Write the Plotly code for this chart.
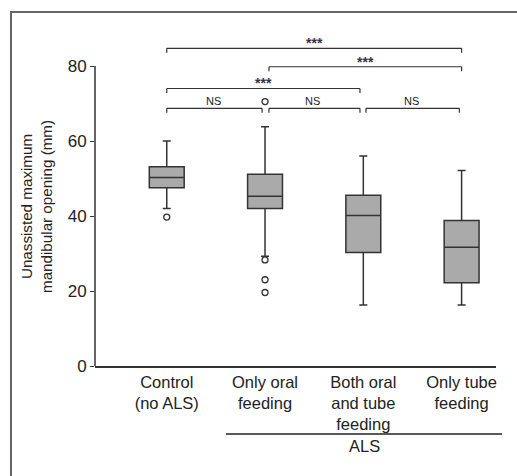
import plotly.graph_objects as go

categories = ["Control<br>(no ALS)", "Only oral<br>feeding", "Both oral<br>and tube<br>feeding", "Only tube<br>feeding"]
q1 = [47.5, 42.0, 30.3, 22.2]
median = [50.3, 45.3, 40.1, 31.7]
q3 = [53.1, 51.1, 45.5, 38.8]
lower_whisker = [42.0, 29.3, 16.3, 16.3]
upper_whisker = [60.0, 63.8, 56.0, 52.1]
outliers = [[39.7], [70.5, 28.3, 23.0, 19.6], [], []]

# significance brackets: (x_start, x_end, y, label, label_x, label_y)
brackets = [
    (0.0, 3.0, 84.7, "***", 1.5, 87.1),
    (1.04, 3.0, 79.8, "***", 2.02, 81.9),
    (0.0, 1.966, 74.0, "***", 0.98, 76.3),
    (0.0, 0.97, 68.7, "NS", 0.48, 70.8),
    (1.04, 1.966, 68.7, "NS", 1.48, 70.8),
    (2.027, 2.977, 68.7, "NS", 2.49, 70.8),
]

W, H = 517, 476
L, R, T, B = 95, 21, 29, 110
pw = W - L - R
ph = H - T - B
ymax = (366 - T) / 3.75

FONT = "Liberation Sans, Arial, sans-serif"
DARK = "#222222"
LINE = "#333333"

fig = go.Figure()
xs = list(range(len(categories)))
fig.add_trace(go.Box(
    x=xs, q1=q1, median=median, q3=q3,
    lowerfence=lower_whisker, upperfence=upper_whisker,
    fillcolor="#aaaaaa", line=dict(color=LINE, width=1.5),
    width=0.355, whiskerwidth=0.23, boxpoints=False, showlegend=False,
    hoverinfo="skip",
))

ox, oy = [], []
for i, vals in enumerate(outliers):
    for v in vals:
        ox.append(i)
        oy.append(v)
fig.add_trace(go.Scatter(
    x=ox, y=oy, mode="markers",
    marker=dict(symbol="circle-open", size=6, color=LINE, line=dict(width=1.3)),
    showlegend=False, hoverinfo="skip",
))

shapes = []
# y axis line from 0 to 80
shapes.append(dict(type="line", xref="paper", yref="y", x0=0, x1=0, y0=0, y1=80,
                   line=dict(color=LINE, width=1.5)))
annotations = []
tick = 1.2
for x0, x1, y, lab, lx, ly in brackets:
    shapes.append(dict(type="line", xref="x", yref="y", x0=x0, x1=x1, y0=y, y1=y,
                       line=dict(color=LINE, width=1.2)))
    shapes.append(dict(type="line", xref="x", yref="y", x0=x0, x1=x0, y0=y, y1=y - tick,
                       line=dict(color=LINE, width=1.2)))
    shapes.append(dict(type="line", xref="x", yref="y", x0=x1, x1=x1, y0=y, y1=y - tick,
                       line=dict(color=LINE, width=1.2)))
    if lab == "NS":
        annotations.append(dict(x=lx, y=ly, xref="x", yref="y", text=lab, showarrow=False,
                                font=dict(family=FONT, size=11, color=DARK),
                                xanchor="center", yanchor="middle"))
    else:
        annotations.append(dict(x=lx, y=ly - 0.9, xref="x", yref="y", text="<b>" + lab + "</b>",
                                showarrow=False,
                                font=dict(family=FONT, size=14, color="#333344"),
                                xanchor="center", yanchor="middle"))

# ALS group line and label
px2paper_x = lambda px: (px - L) / pw
px2paper_y = lambda py: (366 - py) / ph
shapes.append(dict(type="line", xref="paper", yref="paper",
                   x0=px2paper_x(226), x1=px2paper_x(502),
                   y0=px2paper_y(434), y1=px2paper_y(434),
                   line=dict(color=DARK, width=1.3)))
annotations.append(dict(x=px2paper_x(364), y=px2paper_y(446), xref="paper", yref="paper",
                        text="ALS", showarrow=False, xanchor="center", yanchor="middle",
                        font=dict(family=FONT, size=16.5, color=DARK)))
# y axis title
annotations.append(dict(x=px2paper_x(36), y=px2paper_y(207), xref="paper", yref="paper",
                        text="Unassisted maximum<br>mandibular opening (mm)", textangle=-90,
                        showarrow=False, xanchor="center", yanchor="middle",
                        font=dict(family=FONT, size=15.2, color=DARK)))
# outer frame
shapes.append(dict(type="rect", xref="paper", yref="paper",
                   x0=px2paper_x(11), x1=px2paper_x(560),
                   y0=px2paper_y(520), y1=px2paper_y(12),
                   line=dict(color="#666666", width=2)))

fig.update_layout(
    width=W, height=H,
    margin=dict(l=L, r=R, t=T, b=B),
    paper_bgcolor="white", plot_bgcolor="white",
    font=dict(family=FONT, color=DARK),
    shapes=shapes, annotations=annotations,
    xaxis=dict(range=[-0.73, 3.35], tickvals=xs, ticktext=categories,
               showline=True, linecolor=LINE, linewidth=1.5, ticks="",
               showgrid=False, zeroline=False, tickfont=dict(size=16.5, color=DARK),
               fixedrange=True),
    yaxis=dict(range=[0, ymax], tickvals=[0, 20, 40, 60, 80],
               showline=False, ticks="outside", ticklen=4, tickcolor=LINE, tickwidth=1.3,
               showgrid=False, zeroline=False, tickfont=dict(size=17, color=DARK),
               fixedrange=True),
)

fig.write_html("out.html")
